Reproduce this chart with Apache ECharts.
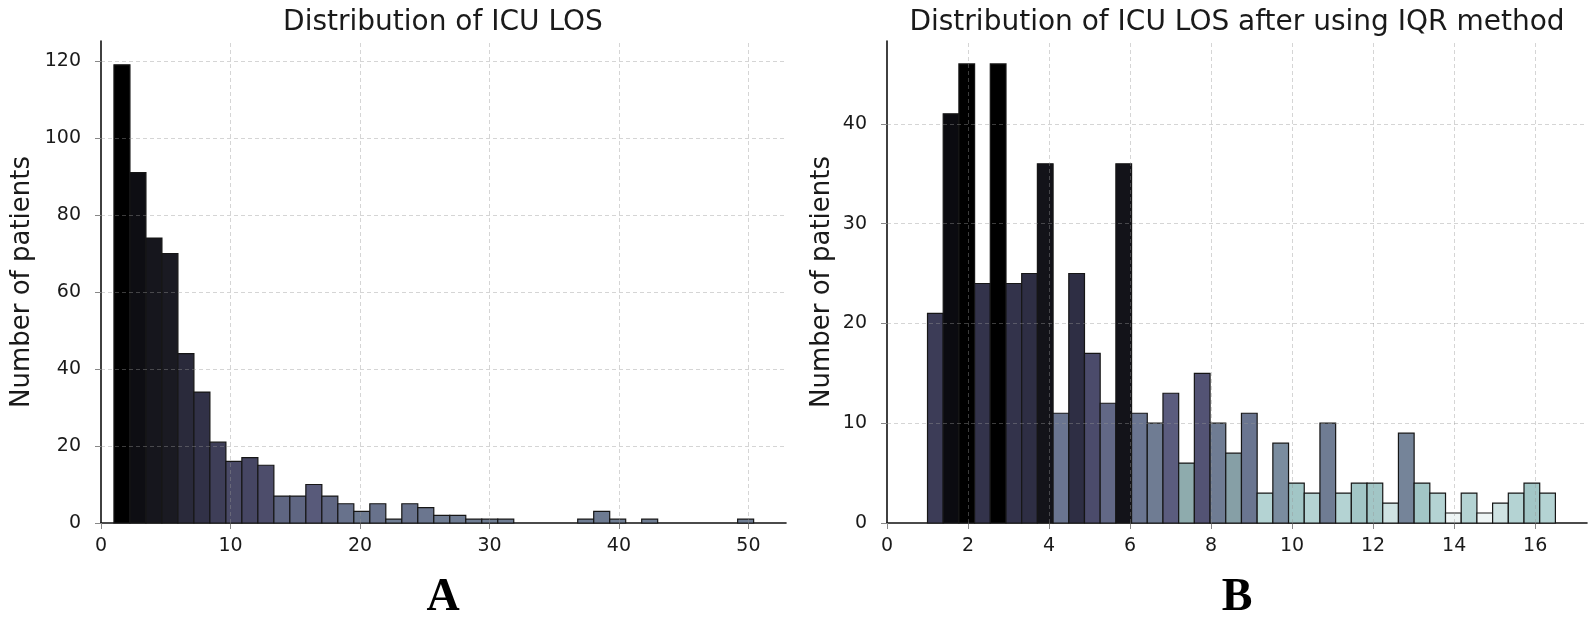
<!DOCTYPE html>
<html>
<head>
<meta charset="utf-8">
<title>Distribution of ICU LOS</title>
<script src="https://cdn.jsdelivr.net/npm/echarts@6/dist/echarts.min.js"></script>
<style>
  html, body { margin: 0; padding: 0; background: #fff; }
  #chart { width: 1595px; height: 620px; }
</style>
</head>
<body>
<div id="chart"></div>
<script>
// panel A: all patients, 40 bins
const binStartA = 1.0;
const binWidthA = 1.235;
const losCountsA = [119, 91, 74, 70, 44, 34, 21, 16, 17, 15,
                    7, 7, 10, 7, 5, 3, 5, 1, 5, 4,
                    2, 2, 1, 1, 1, 0, 0, 0, 0, 1,
                    3, 1, 0, 1, 0, 0, 0, 0, 0, 1];
const xTicksA = [0, 10, 20, 30, 40, 50];
const yTicksA = [0, 20, 40, 60, 80, 100, 120];

// panel B: after IQR outlier removal, 40 bins
const binStartB = 1.0;
const binWidthB = 0.3875;
const losCountsB = [21, 41, 46, 24, 46, 24, 25, 36, 11, 25,
                    17, 12, 36, 11, 10, 13, 6, 15, 10, 7,
                    11, 3, 8, 4, 3, 10, 3, 4, 4, 2,
                    9, 4, 3, 1, 3, 1, 2, 3, 4, 3];
const xTicksB = [0, 2, 4, 6, 8, 10, 12, 14, 16];
const yTicksB = [0, 10, 20, 30, 40];

// colour ramps (count -> colour), darker for taller bars
const rampA = [[1, '#707e94'], [3, '#6d7a91'], [5, '#68728c'], [7, '#5f6682'],
               [10, '#585a7a'], [15, '#4d4d6b'], [17, '#464663'], [21, '#3e3e58'],
               [34, '#313147'], [44, '#2a2a3b'], [70, '#1a1a22'], [74, '#16161d'],
               [91, '#0e0e13'], [119, '#000000']];
const rampB = [[1, '#eef5f5'], [2, '#cfe3e3'], [3, '#b4d3d3'], [4, '#a2c6c6'],
               [6, '#8eabad'], [7, '#869fa6'], [8, '#7a8c9f'], [10, '#6f7c93'],
               [11, '#6a7590'], [12, '#626886'], [13, '#5b5c7e'], [15, '#535374'],
               [17, '#4b4b6b'], [21, '#3c3c57'], [24, '#33334b'], [25, '#2e2e44'],
               [36, '#131319'], [41, '#0b0b10'], [46, '#000000']];

function hexRgb(h) {
  return [1, 3, 5].map(i => parseInt(h.slice(i, i + 2), 16));
}

function rampColor(ramp, n) {
  if (n <= ramp[0][0]) return ramp[0][1];
  for (let i = 1; i < ramp.length; i++) {
    if (n <= ramp[i][0]) {
      const a = hexRgb(ramp[i - 1][1]), b = hexRgb(ramp[i][1]);
      const t = (n - ramp[i - 1][0]) / (ramp[i][0] - ramp[i - 1][0]);
      const c = a.map((v, k) => Math.round(v + (b[k] - v) * t));
      return 'rgb(' + c.join(',') + ')';
    }
  }
  return ramp[ramp.length - 1][1];
}

function histData(start, width, counts) {
  return counts.map((n, i) => [start + i * width, start + (i + 1) * width, n]);
}

function histRender(ramp) {
  return function (params, api) {
    const n = api.value(2);
    if (!n) return;
    const p0 = api.coord([api.value(0), n]);
    const p1 = api.coord([api.value(1), 0]);
    return {
      type: 'rect',
      shape: { x: p0[0], y: p0[1], width: p1[0] - p0[0], height: p1[1] - p0[1] },
      style: { fill: rampColor(ramp, n), stroke: '#161616', lineWidth: 1.2 }
    };
  };
}

const FONT = 'DejaVu Sans';
const gridStyle = { color: 'rgba(150,150,150,0.4)', width: 1, type: [4, 3] };

// dashed grid drawn over the bars, as in the original figure
function gridLines(xs, ys) {
  const data = xs.filter(v => v > 0).map(v => ({ xAxis: v }))
    .concat(ys.filter(v => v > 0).map(v => ({ yAxis: v })));
  return {
    silent: true,
    symbol: 'none',
    animation: false,
    label: { show: false },
    lineStyle: gridStyle,
    emphasis: { disabled: true },
    data: data
  };
}

function xAxisOf(idx, max, ticks) {
  return {
    type: 'value', gridIndex: idx, min: 0, max: max,
    axisLine: { show: true, onZero: false, lineStyle: { color: '#111', width: 1.6 } },
    axisTick: { show: true, length: 6, customValues: ticks, lineStyle: { color: '#888' } },
    axisLabel: { customValues: ticks, margin: 14, fontSize: 19, fontFamily: FONT, color: '#1a1a1a' },
    splitLine: { show: false }
  };
}

function yAxisOf(idx, max, ticks, gap) {
  return {
    type: 'value', gridIndex: idx, min: 0, max: max,
    name: 'Number of patients', nameLocation: 'middle', nameGap: gap, nameRotate: 90,
    nameTextStyle: { fontSize: 26, fontFamily: FONT, color: '#1a1a1a' },
    axisLine: { show: true, lineStyle: { color: '#111', width: 1.6 } },
    axisTick: { show: true, length: 6, customValues: ticks, lineStyle: { color: '#888' } },
    axisLabel: { customValues: ticks, margin: 20, fontSize: 19, fontFamily: FONT, color: '#1a1a1a' },
    splitLine: { show: false }
  };
}

const chart = echarts.init(document.getElementById('chart'), null, { renderer: 'canvas' });

chart.setOption({
  animation: false,
  backgroundColor: '#fff',
  title: [
    { text: 'Distribution of ICU LOS', left: 443, top: 9, textAlign: 'center', padding: 0,
      textStyle: { fontSize: 28, fontWeight: 'normal', fontFamily: FONT, color: '#1a1a1a' } },
    { text: 'Distribution of ICU LOS after using IQR method', left: 1237, top: 9, textAlign: 'center', padding: 0,
      textStyle: { fontSize: 28, fontWeight: 'normal', fontFamily: FONT, color: '#1a1a1a' } }
  ],
  grid: [
    { left: 101, top: 41, width: 685, bottom: 97 },
    { left: 887, top: 41, width: 700, bottom: 97 }
  ],
  xAxis: [xAxisOf(0, 52.9, xTicksA), xAxisOf(1, 17.28, xTicksB)],
  yAxis: [yAxisOf(0, 125.2, yTicksA, 66), yAxisOf(1, 48.3, yTicksB, 52)],
  series: [
    {
      type: 'custom', xAxisIndex: 0, yAxisIndex: 0, z: 2,
      renderItem: histRender(rampA),
      encode: { x: [0, 1], y: 2 },
      data: histData(binStartA, binWidthA, losCountsA)
    },
    {
      type: 'custom', xAxisIndex: 1, yAxisIndex: 1, z: 2,
      renderItem: histRender(rampB),
      encode: { x: [0, 1], y: 2 },
      data: histData(binStartB, binWidthB, losCountsB)
    },
    {
      type: 'scatter', xAxisIndex: 0, yAxisIndex: 0, z: 5, data: [],
      markLine: gridLines(xTicksA, yTicksA)
    },
    {
      type: 'scatter', xAxisIndex: 1, yAxisIndex: 1, z: 5, data: [],
      markLine: gridLines(xTicksB, yTicksB)
    }
  ],
  graphic: [
    { type: 'text', x: 443, y: 598, style: { text: 'A', font: 'bold 46px "Liberation Serif"', fill: '#000', textAlign: 'center', textVerticalAlign: 'middle' } },
    { type: 'text', x: 1237, y: 598, style: { text: 'B', font: 'bold 46px "Liberation Serif"', fill: '#000', textAlign: 'center', textVerticalAlign: 'middle' } }
  ]
});
</script>
</body>
</html>
